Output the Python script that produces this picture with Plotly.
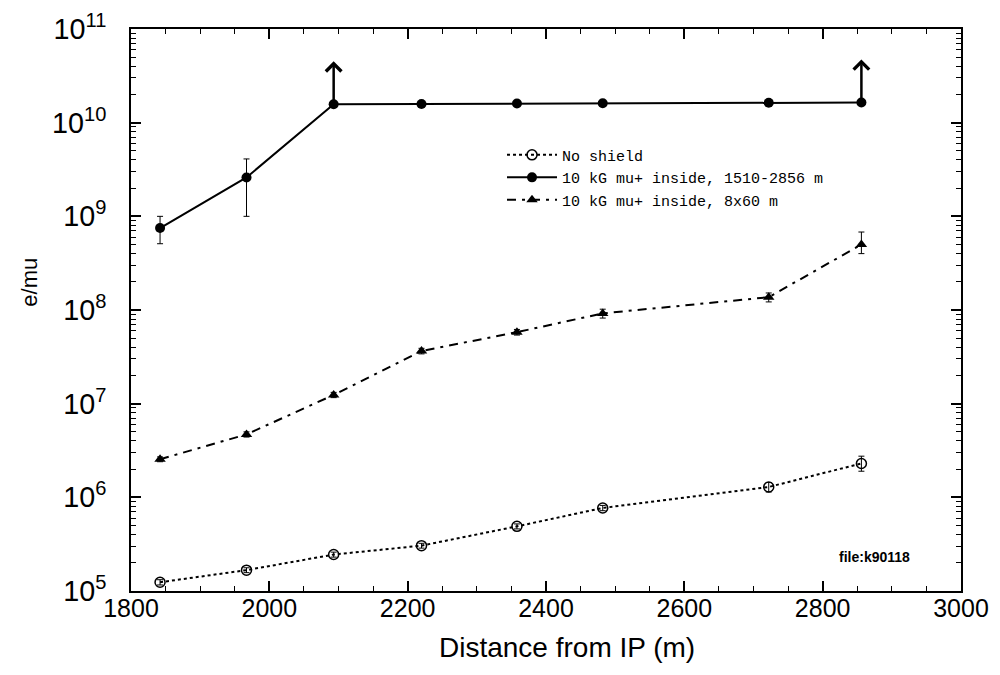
import math
import plotly.graph_objects as go

# ---- data ----
distance = [1842, 1967, 2093, 2220, 2358, 2482, 2722, 2856]

no_shield = [1.24e5, 1.67e5, 2.45e5, 3.05e5, 4.9e5, 7.7e5, 1.29e6, 2.3e6]
no_shield_err_plus = [0.08e5, 0.10e5, 0.15e5, 0.18e5, 0.3e5, 0.5e5, 0.15e6, 0.45e6]
no_shield_err_minus = [0.08e5, 0.10e5, 0.15e5, 0.18e5, 0.3e5, 0.5e5, 0.15e6, 0.4e6]

inside_full = [7.5e8, 2.6e9, 1.57e10, 1.58e10, 1.6e10, 1.61e10, 1.63e10, 1.64e10]
inside_full_err_plus = [2.5e8, 1.5e9, 0, 0, 0, 0, 0, 0]
inside_full_err_minus = [2.4e8, 1.6e9, 0, 0, 0, 0, 0, 0]
lower_limit_idx = [2, 7]

inside_8x60 = [2.55e6, 4.7e6, 1.24e7, 3.65e7, 5.8e7, 9.2e7, 1.37e8, 5.0e8]
inside_8x60_err_plus = [0.15e6, 0.3e6, 0.8e6, 2.5e6, 4e6, 1.0e7, 1.5e7, 1.8e8]
inside_8x60_err_minus = [0.15e6, 0.3e6, 0.8e6, 2.5e6, 4e6, 1.0e7, 1.5e7, 1.0e8]

legend_names = ["No shield", "10 kG mu+ inside, 1510-2856 m", "10 kG mu+ inside, 8x60 m"]
x_title = "Distance from IP (m)"
y_title = "e/mu"
file_label = "file:k90118"

# ---- figure ----
fig = go.Figure()

def err(plus, minus):
    return dict(type="data", array=plus, arrayminus=minus, visible=True,
                color="black", thickness=1, width=3)

fig.add_trace(go.Scatter(
    x=distance, y=no_shield, name=legend_names[0], mode="lines+markers",
    line=dict(color="black", width=2, dash="dot"),
    marker=dict(symbol="circle-open", size=10, color="black", line=dict(width=1.5)),
    error_y=err(no_shield_err_plus, no_shield_err_minus)))

fig.add_trace(go.Scatter(
    x=distance, y=inside_full, name=legend_names[1], mode="lines+markers",
    line=dict(color="black", width=2),
    marker=dict(symbol="circle", size=10, color="black"),
    error_y=err(inside_full_err_plus, inside_full_err_minus)))

fig.add_trace(go.Scatter(
    x=distance, y=inside_8x60, name=legend_names[2], mode="lines+markers",
    line=dict(color="black", width=2, dash="9px,6px,3px,6px"),
    marker=dict(symbol="triangle-up", size=10, color="black"),
    error_y=err(inside_8x60_err_plus, inside_8x60_err_minus)))

# lower-limit arrows
for i in lower_limit_idx:
    fig.add_annotation(
        x=distance[i], y=math.log10(inside_full[i]) + 0.46,
        xref="x", yref="y", ax=0, ay=43, axref="pixel", ayref="pixel",
        text="", showarrow=True, arrowhead=4, arrowsize=1.2, arrowwidth=2.5,
        arrowcolor="black", standoff=0, startstandoff=0)

fig.add_annotation(
    x=0.941, y=0.06, xref="paper", yref="paper", xanchor="right", yanchor="middle",
    text="<b>" + file_label + "</b>", showarrow=False,
    font=dict(family="Liberation Sans", size=14, color="black"))

# axis titles
fig.add_annotation(
    x=0.525, y=-0.10, xref="paper", yref="paper", xanchor="center", yanchor="middle",
    text=x_title, showarrow=False,
    font=dict(family="Liberation Sans", size=28, color="black"))
fig.add_annotation(
    x=-0.122, y=0.55, xref="paper", yref="paper", xanchor="center", yanchor="middle",
    text=y_title, textangle=-90, showarrow=False,
    font=dict(family="Liberation Sans", size=22, color="black"))

axis_common = dict(
    showline=True, linecolor="black", linewidth=2, mirror="ticks",
    ticks="inside", ticklen=10, tickwidth=1.5, tickcolor="black",
    showgrid=False, zeroline=False, automargin=False, ticklabeloverflow="allow",
)

fig.update_xaxes(
    range=[1800, 3000], tick0=1800, dtick=200, ticklabelstandoff=-6,
    tickfont=dict(family="Liberation Sans", size=25, color="black"),
    minor=dict(ticks="inside", ticklen=5, tickwidth=1.2, tickcolor="black", dtick=50),
    **axis_common)

fig.update_yaxes(
    type="log", range=[5, 11], dtick=1, exponentformat="power", showexponent="all",
    ticklabelstandoff=18,
    tickfont=dict(family="Liberation Sans", size=23, color="black"),
    minor=dict(ticks="inside", ticklen=5, tickwidth=1.2, tickcolor="black", dtick="D1"),
    **axis_common)

fig.update_layout(
    width=992, height=667,
    margin=dict(l=123, r=39, t=21, b=84),
    plot_bgcolor="white", paper_bgcolor="white",
    showlegend=True,
    legend=dict(x=0.447, y=0.805, xanchor="left", yanchor="top",
                bgcolor="rgba(0,0,0,0)", borderwidth=0, itemwidth=50,
                tracegroupgap=0,
                font=dict(family="Liberation Mono", size=15, color="black")),
    font=dict(family="Liberation Sans", color="black"),
)

fig.write_html("out.html")
